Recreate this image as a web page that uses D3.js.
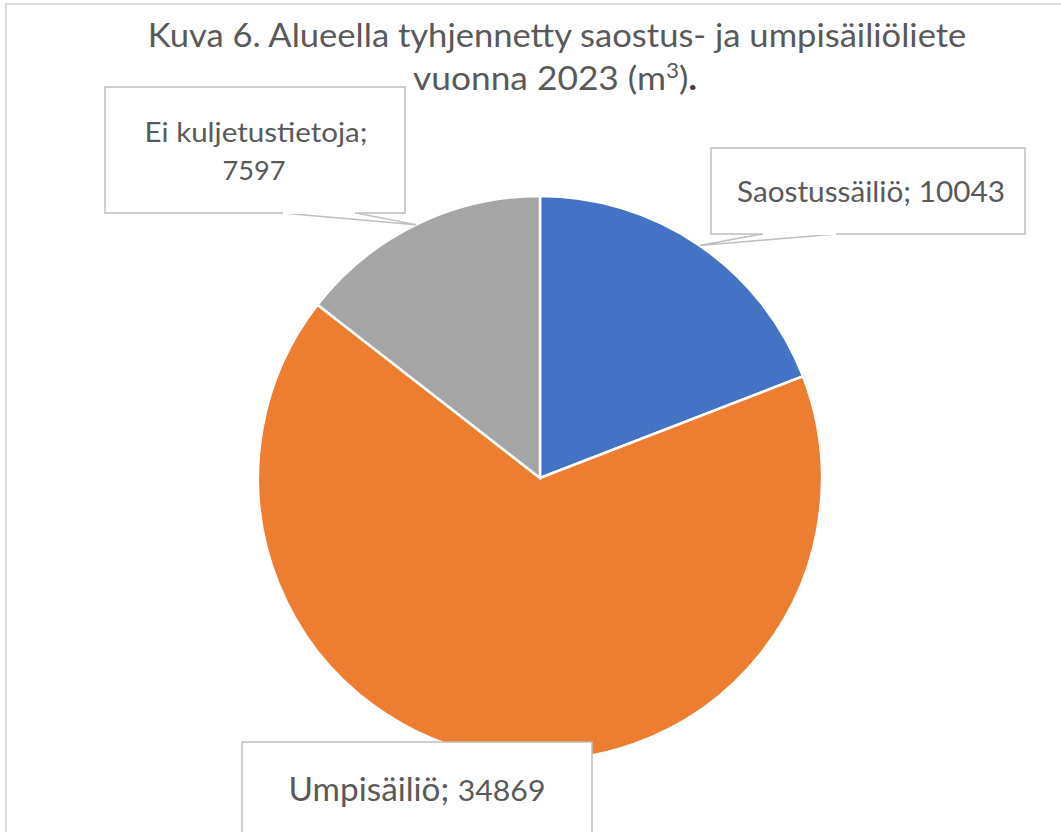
<!DOCTYPE html>
<html><head><meta charset="utf-8">
<script src="https://cdn.jsdelivr.net/npm/d3@7/dist/d3.min.js"></script>
<style>html,body{margin:0;padding:0;background:#fff;}svg{display:block;}</style>
</head><body>
<svg id="c" width="1061" height="832"></svg>
<script>
const categories = ["Saostussäiliö", "Umpisäiliö", "Ei kuljetustietoja"];
const values = [10043, 34869, 7597];
const colors = ["#4472C4", "#ED7D31", "#A5A5A5"];
const titleLines = ["Kuva 6. Alueella tyhjennetty saostus- ja umpisäiliöliete", "vuonna 2023 (m"];

const svg = d3.select("#c");
const FONT = "Lato, 'Noto Sans', sans-serif";
const TXT = "#595959";

svg.append("rect").attr("width",1061).attr("height",832).attr("fill","#fff");
svg.append("rect").attr("x",6).attr("y",4).attr("width",1100).attr("height",900)
  .attr("fill","none").attr("stroke","#d9d9d9").attr("stroke-width",2);

// text helper: centered at cx, baseline y, horizontally scaled to target width
function label(parent, cx, y, targetW, build){
  const g = parent.append("g");
  const t = g.append("text").attr("x",0).attr("y",0).attr("text-anchor","middle")
    .attr("font-family",FONT).attr("fill",TXT);
  build(t);
  const w = t.node().getComputedTextLength();
  g.attr("transform",`translate(${cx},${y}) scale(${targetW/w},1)`);
  return t;
}

// pie
const cx = 540, cy = 478, R = 282;
const pie = d3.pie().sort(null).value(d=>d)(values);
const arc = d3.arc().innerRadius(0).outerRadius(R);
const g = svg.append("g").attr("transform",`translate(${cx},${cy})`);
g.selectAll("path").data(pie).join("path")
  .attr("d",arc).attr("fill",(d,i)=>colors[i]).attr("stroke","#fff").attr("stroke-width",2.5);

function edgePoint(d){
  const a = (d.startAngle+d.endAngle)/2;
  return [cx + R*Math.sin(a), cy - R*Math.cos(a)];
}

// callouts
const boxes = [
  {i:0, x:711, y:148, w:314, h:86, wedge:[762,837]},
  {i:1, x:242, y:742, w:350, h:120, wedge:null},
  {i:2, x:105, y:87, w:300, h:126, wedge:[282,356]}
];
boxes.forEach(b=>{
  if(b.wedge){
    const p = edgePoint(pie[b.i]);
    svg.append("path")
      .attr("d",`M${b.wedge[0]},${b.y+b.h}L${p[0]},${p[1]}L${b.wedge[1]},${b.y+b.h}`)
      .attr("fill","#fff").attr("stroke","#bfbfbf").attr("stroke-width",1.5);
  }
  svg.append("rect").attr("x",b.x).attr("y",b.y).attr("width",b.w).attr("height",b.h)
    .attr("fill","#fff").attr("stroke","#bfbfbf").attr("stroke-width",1.5);
  if(b.wedge){
    svg.append("line").attr("x1",b.wedge[0]+1).attr("x2",b.wedge[1]-1)
      .attr("y1",b.y+b.h).attr("y2",b.y+b.h).attr("stroke","#fff").attr("stroke-width",2);
  }
});

// title
label(svg, 557, 47, 819, t=>t.attr("font-size",33).text(titleLines[0]));
label(svg, 555, 90, 284, t=>{
  t.attr("font-size",33);
  t.append("tspan").text(titleLines[1]);
  t.append("tspan").attr("font-size",21).attr("dy",-12).text("3");
  t.append("tspan").attr("dy",12).text(")");
  t.append("tspan").attr("font-weight","bold").attr("fill","#404040").text(".");
});

// data labels
label(svg, 871, 202, 268, t=>t.attr("font-size",28).text(`${categories[0]}; ${values[0]}`));
label(svg, 256, 142, 223, t=>t.attr("font-size",27).text(`${categories[2]};`));
label(svg, 254, 180, 63, t=>t.attr("font-size",27).text(values[2]));
label(svg, 417, 801, 257, t=>{
  t.append("tspan").attr("font-size",32).text(`${categories[1]}; `);
  t.append("tspan").attr("font-size",29).text(values[1]);
});
</script>
</body></html>
